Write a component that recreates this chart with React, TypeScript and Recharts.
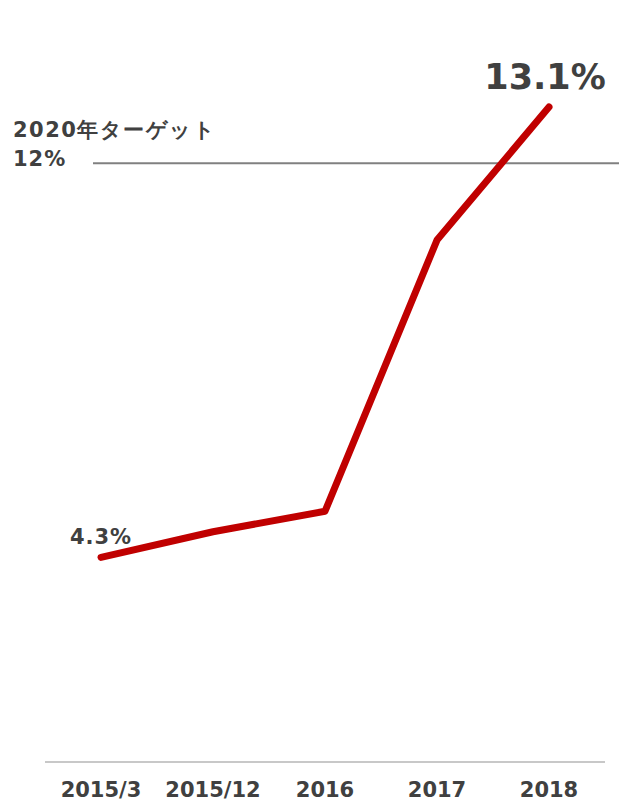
import React from 'react';
import { LineChart, Line, XAxis, YAxis, ReferenceLine, LabelList } from 'recharts';

const categories = ['2015/3', '2015/12', '2016', '2017', '2018'];
const shareValues = [4.3, 4.8, 5.2, 10.5, 13.1];
const pointLabels = ['4.3%', '', '', '', '13.1%'];
const targetValue = 12;
const targetLabelLines = ['2020年ターゲット', '12%'];

const data = categories.map((c, i) => ({ name: c, value: shareValues[i], label: pointLabels[i] }));

const TEXT = '#404040';
const FONT = '"DejaVu Sans", Verdana, sans-serif';

const PointLabel = (props: any) => {
  const { x, y, index } = props;
  const text = pointLabels[index];
  if (!text) return null;
  const isLast = index === pointLabels.length - 1;
  return (
    <text
      x={isLast ? x - 4 : x}
      y={isLast ? y - 30 : y - 20}
      textAnchor="middle"
      dominantBaseline="central"
      fill={TEXT}
      fontFamily={FONT}
      fontWeight="bold"
      fontSize={isLast ? 35 : 21}
      letterSpacing={isLast ? 0 : 1}
    >
      {text}
    </text>
  );
};

const TargetShape = (props: any) => {
  const { x1, x2, y1 } = props;
  return (
    <g>
      <line x1={x1 + 48} x2={x2 + 14} y1={y1} y2={y1} stroke="#808080" strokeWidth={2} />
      <text x={13} y={y1 - 26} fill={TEXT} fontFamily={FONT} fontWeight="bold" fontSize={21} letterSpacing={1.5}>
        {targetLabelLines[0]}
      </text>
      <text x={13} y={y1 + 3} fill={TEXT} fontFamily={FONT} fontWeight="bold" fontSize={21} letterSpacing={1}>
        {targetLabelLines[1]}
      </text>
    </g>
  );
};

export default function App() {
  return (
    <div style={{ position: 'absolute', left: 0, top: 0, background: '#fff' }}>
      <LineChart width={619} height={804} data={data} margin={{ top: 61, right: 14, bottom: 0, left: 45 }}>
        <XAxis
          dataKey="name"
          padding={{ left: 56, right: 56 }}
          axisLine={{ stroke: '#c8c8c8', strokeWidth: 2 }}
          tickLine={false}
          height={42}
          tickMargin={14}
          tick={{ fill: TEXT, fontFamily: FONT, fontWeight: 'bold', fontSize: 21 }}
          interval={0}
        />
        <YAxis hide domain={[0.3, 14]} />
        <ReferenceLine y={targetValue} shape={TargetShape} ifOverflow="visible" />
        <Line
          type="linear"
          dataKey="value"
          stroke="#c00000"
          strokeWidth={7}
          strokeLinecap="round"
          strokeLinejoin="round"
          dot={false}
          activeDot={false}
          isAnimationActive={false}
        >
          <LabelList dataKey="label" content={PointLabel} />
        </Line>
      </LineChart>
    </div>
  );
}
